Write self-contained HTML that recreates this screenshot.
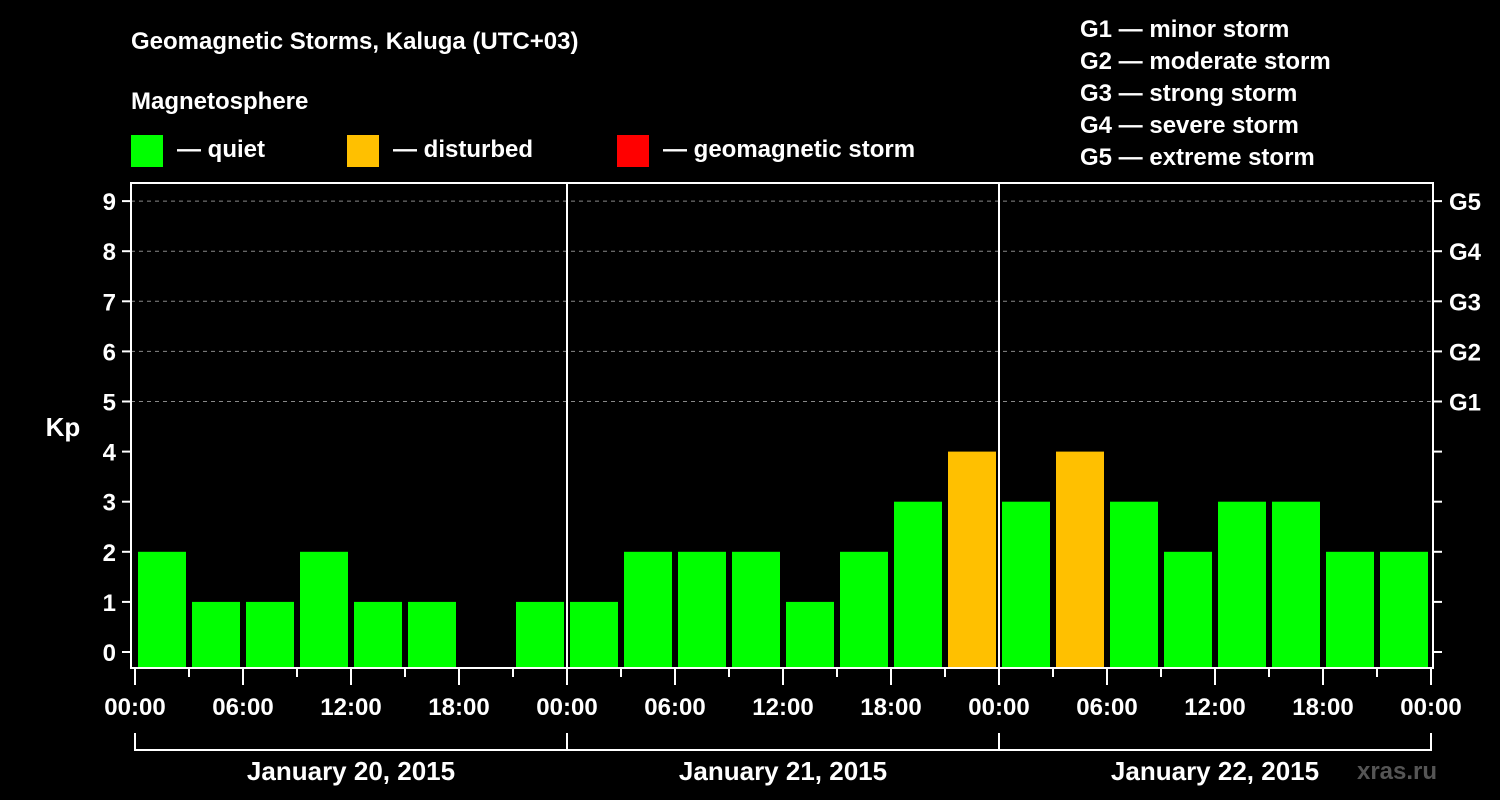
<!DOCTYPE html>
<html><head><meta charset="utf-8"><style>
html,body{margin:0;padding:0;background:#000;}
svg{display:block;font-family:"Liberation Sans",Arial,sans-serif;font-weight:bold;}
</style></head><body>
<svg id="chart" width="1500" height="800" viewBox="0 0 1500 800">
<rect width="1500" height="800" fill="#000"/>
<text x="131" y="49" fill="#fff" font-size="24">Geomagnetic Storms, Kaluga (UTC+03)</text>
<text x="131" y="109" fill="#fff" font-size="24">Magnetosphere</text>
<g><rect x="131" y="135" width="32" height="32" fill="#00ff00"/><text x="177" y="157" fill="#fff" font-size="24">— quiet</text></g>
<g><rect x="347" y="135" width="32" height="32" fill="#ffc000"/><text x="393" y="157" fill="#fff" font-size="24">— disturbed</text></g>
<g><rect x="617" y="135" width="32" height="32" fill="#ff0000"/><text x="663" y="157" fill="#fff" font-size="24">— geomagnetic storm</text></g>
<g fill="#fff" font-size="24">
<text x="1080" y="37">G1 — minor storm</text>
<text x="1080" y="69">G2 — moderate storm</text>
<text x="1080" y="101">G3 — strong storm</text>
<text x="1080" y="133">G4 — severe storm</text>
<text x="1080" y="165">G5 — extreme storm</text>
</g>
<text x="63" y="436" fill="#fff" font-size="26" text-anchor="middle">Kp</text>
<text x="1397" y="779" fill="#555" font-size="24" text-anchor="middle">xras.ru</text>
<g id="plot"></g>
</svg>
<script>
const kpValues=[2,1,1,2,1,1,0,1, 1,2,2,2,1,2,3,4, 3,4,3,2,3,3,2,2];
const dayLabels=["January 20, 2015","January 21, 2015","January 22, 2015"];
const hourLabels=["00:00","06:00","12:00","18:00"];
const yTicks=[0,1,2,3,4,5,6,7,8,9];
const gLabels=["G1","G2","G3","G4","G5"];
const NS="http://www.w3.org/2000/svg";
const g=document.getElementById('plot');
const L=131,R=1433,T=183,B=668,X0=135,slotW=54;
const y=v=>652-v*50.1;
const x=i=>X0+i*slotW;
function mk(t,a,p){const e=document.createElementNS(NS,t);for(const k in a)e.setAttribute(k,a[k]);(p||g).appendChild(e);return e;}
// gridlines
yTicks.forEach(v=>{if(v>=5){const l=mk('line',{x1:L,x2:R,y1:y(v),y2:y(v),stroke:'#888','stroke-dasharray':'4,4','stroke-width':1});

}});
// bars
kpValues.forEach((v,i)=>{const c=v>=5?'#ff0000':(v>=4?'#ffc000':'#00ff00');const top=v>0?y(v):B;
const r=mk('rect',{x:x(i)+3,y:top,width:48,height:B-top,fill:c});

});
// day separators
[1,2].forEach(d=>{const l=mk('line',{x1:x(d*8),x2:x(d*8),y1:T,y2:B,stroke:'#fff','stroke-width':2});

});
// frame
const f=mk('rect',{x:L,y:T,width:R-L,height:B-T,fill:'none',stroke:'#fff','stroke-width':2});


// y ticks
yTicks.forEach(v=>{mk('line',{x1:122,x2:L,y1:y(v),y2:y(v),stroke:'#fff','stroke-width':2});
mk('line',{x1:R,x2:1442,y1:y(v),y2:y(v),stroke:'#fff','stroke-width':2});
const t=mk('text',{x:116,y:y(v)+9,fill:'#fff','font-size':24,'text-anchor':'end'});t.textContent=v;

});
gLabels.forEach((s,i)=>{const t=mk('text',{x:1449,y:y(5+i)+9,fill:'#fff','font-size':24});t.textContent=s;

});
// x ticks
for(let i=0;i<=24;i++){const major=i%2===0;mk('line',{x1:x(i),x2:x(i),y1:B,y2:major?685:677,stroke:'#fff','stroke-width':2});
if(major){const lbl=hourLabels[(i/2)%4];const t=mk('text',{x:x(i),y:715,fill:'#fff','font-size':24,'text-anchor':'middle'});t.textContent=lbl;

}}
// day brackets
dayLabels.forEach((s,d)=>{const a=x(d*8),b=x(d*8+8);
mk('path',{d:`M${a},733V750H${b}V733`,stroke:'#fff','stroke-width':2,fill:'none'});
const t=mk('text',{x:(a+b)/2,y:780,fill:'#fff','font-size':26,'text-anchor':'middle'});t.textContent=s;

});
</script>
</body></html>
